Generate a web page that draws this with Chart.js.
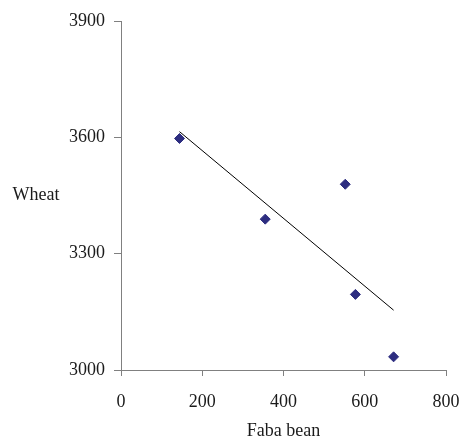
<!DOCTYPE html>
<html>
<head>
<meta charset="utf-8">
<script src="https://cdn.jsdelivr.net/npm/chart.js@4/dist/chart.umd.min.js"></script>
<style>
  html, body { margin: 0; padding: 0; background: #fff; }
  #wrap { width: 461px; height: 437px; }
</style>
</head>
<body>
<div id="wrap"><canvas id="grafico"></canvas></div>
<script>
// Datos
const fabaBean = [144, 355, 552, 577, 671];
const wheat = [3597, 3389, 3479, 3195, 3034];
const xTicks = [0, 200, 400, 600, 800];
const yTicks = [3000, 3300, 3600, 3900];

const puntos = fabaBean.map((x, i) => ({ x: x, y: wheat[i] }));

// Recta de regresion (tendencia lineal) desde el minimo al maximo de x
const n = fabaBean.length;
const mx = fabaBean.reduce((a, b) => a + b, 0) / n;
const my = wheat.reduce((a, b) => a + b, 0) / n;
let sxy = 0, sxx = 0;
for (let i = 0; i < n; i++) {
    sxy += (fabaBean[i] - mx) * (wheat[i] - my);
    sxx += (fabaBean[i] - mx) * (fabaBean[i] - mx);
}
const pendiente = sxy / sxx;
const xMin = Math.min(...fabaBean), xMax = Math.max(...fabaBean);
const tendencia = [
    { x: xMin, y: my + pendiente * (xMin - mx) },
    { x: xMax, y: my + pendiente * (xMax - mx) }
];

const fuente = { family: '"Liberation Serif", "Times New Roman", serif', size: 18 };
const colorTexto = '#1a1a1a';
const colorEje = '#808080';

// Titulo horizontal del eje Y
const tituloY = {
    id: 'tituloY',
    afterDraw(chart) {
        const ctx = chart.ctx;
        const area = chart.chartArea;
        ctx.save();
        ctx.font = fuente.size + 'px ' + fuente.family;
        ctx.fillStyle = colorTexto;
        ctx.textAlign = 'center';
        ctx.textBaseline = 'middle';
        ctx.fillText('Wheat', 36, (area.top + area.bottom) / 2);
        ctx.restore();
    }
};

Chart.defaults.font = fuente;
Chart.defaults.color = colorTexto;

new Chart(document.getElementById('grafico').getContext('2d'), {
    type: 'scatter',
    data: {
        datasets: [{
            label: 'Wheat',
            data: puntos,
            pointStyle: 'rectRot',
            pointRadius: 5,
            borderWidth: 1,
            backgroundColor: '#2d2d80',
            borderColor: '#2d2d80',
            order: 1
        }, {
            type: 'line',
            label: 'Tendencia',
            data: tendencia,
            borderColor: '#000',
            borderWidth: 1,
            pointRadius: 0,
            fill: false,
            order: 2
        }]
    },
    options: {
        responsive: true,
        maintainAspectRatio: false,
        animation: false,
        layout: { padding: { top: 21, right: 15, left: 0, bottom: 0 } },
        plugins: {
            legend: { display: false },
            tooltip: { enabled: false }
        },
        scales: {
            x: {
                type: 'linear',
                min: 0,
                max: 800,
                afterBuildTicks: scale => { scale.ticks = xTicks.map(v => ({ value: v })); },
                afterFit: scale => {
                    scale.height = 67;
                    scale.paddingLeft = 0;
                    scale.paddingRight = 0;
                },
                ticks: { padding: 15, maxRotation: 0, callback: v => String(v) },
                grid: { drawOnChartArea: false, tickLength: 6, color: colorEje },
                border: { color: colorEje },
                title: { display: true, text: 'Faba bean', padding: { top: 0, bottom: -5 } }
            },
            y: {
                type: 'linear',
                min: 3000,
                max: 3900,
                afterBuildTicks: scale => { scale.ticks = yTicks.map(v => ({ value: v })); },
                afterFit: scale => { scale.width = 121; },
                ticks: { padding: 9, callback: v => String(v) },
                grid: { drawOnChartArea: false, tickLength: 7, color: colorEje },
                border: { color: colorEje }
            }
        }
    },
    plugins: [tituloY]
});
</script>
</body>
</html>
